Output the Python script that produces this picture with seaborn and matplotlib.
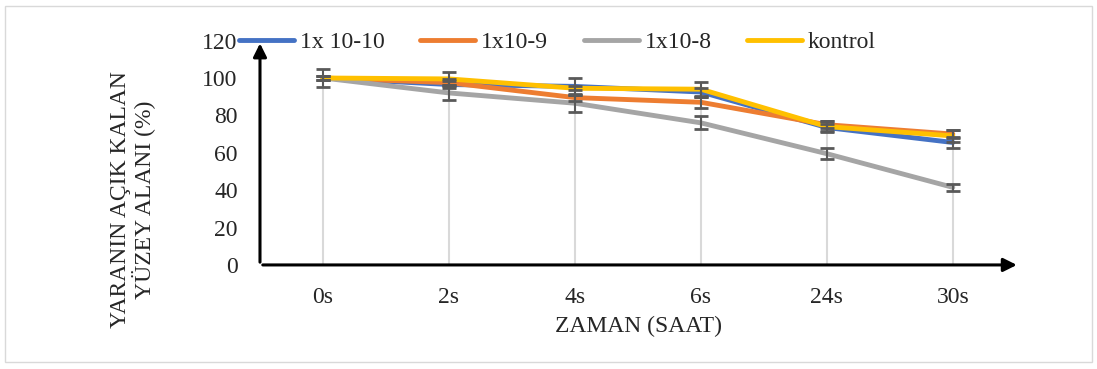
import matplotlib
matplotlib.use("Agg")
import matplotlib.pyplot as plt
import seaborn as sns
import numpy as np
import pandas as pd
from matplotlib.patches import Rectangle

categories = ["0s", "2s", "4s", "6s", "24s", "30s"]
series_names = ["1x 10-10", "1x10-9", "1x10-8", "kontrol"]
v_1e10 = [100, 96.5, 95.5, 92.5, 73.5, 65.5]
v_1e9 = [100, 97.5, 89.5, 87.0, 75.0, 70.0]
v_1e8 = [100, 92.0, 86.5, 76.0, 59.5, 41.5]
v_kontrol = [100, 99.5, 94.5, 94.0, 74.0, 69.0]
e_1e10 = [1.0, 2.0, 4.5, 2.0, 2.0, 3.0]
e_1e9 = [1.0, 2.0, 2.0, 3.0, 2.0, 2.0]
e_1e8 = [5.0, 4.0, 4.5, 3.5, 3.0, 2.0]
e_kontrol = [1.0, 3.5, 1.0, 4.0, 3.0, 3.0]
yticks = [0, 20, 40, 60, 80, 100, 120]

colors = ["#4472C4", "#ED7D31", "#A5A5A5", "#FFC000"]
values = [v_1e10, v_1e9, v_1e8, v_kontrol]
errors = [e_1e10, e_1e9, e_1e8, e_kontrol]

rows = []
for name, vals in zip(series_names, values):
    for i, (c, v) in enumerate(zip(categories, vals)):
        rows.append({"zaman": c, "x": i, "seri": name, "deger": v})
df = pd.DataFrame(rows)

sns.set_style("white")
plt.rcParams["font.family"] = ["Liberation Serif", "DejaVu Serif"]
FS = 17

fig = plt.figure(figsize=(10.97, 3.69), dpi=100)
ax = fig.add_axes([0.237, 0.282, 0.689, 0.608])

x = np.arange(len(categories))
# drop lines
ax.vlines(x, 0, np.max(np.array(values), axis=0), color="#D9D9D9", lw=1.5, zorder=1)

sns.lineplot(data=df, x="x", y="deger", hue="seri", palette=colors,
             hue_order=series_names, lw=3.5, ax=ax, zorder=3, legend=False)

for vals, errs in zip(values, errors):
    ax.errorbar(x, vals, yerr=errs, fmt="none", ecolor="#595959",
                elinewidth=1.5, capsize=5, capthick=2, zorder=4)

ax.set_xlim(-0.5, 5.5)
ax.set_ylim(0, 120)
ax.set_yticks(yticks)
ax.set_yticklabels([str(t) for t in yticks], fontsize=FS)
ax.set_xticks(np.arange(-0.5, 6.0, 1.0))
ax.set_xticklabels([])
ax.set_xticks(x, minor=True)
ax.set_xticklabels(categories, minor=True, fontsize=FS)
ax.tick_params(axis="x", which="major", direction="out", length=6, width=2, color="black")
ax.tick_params(axis="x", which="minor", length=0, pad=16)
ax.tick_params(axis="y", direction="inout", length=8, width=2, color="black", pad=12)
for s in ax.spines.values():
    s.set_visible(False)
ax.set_xlabel("")
ax.set_ylabel("")

# axis arrows
ax.annotate("", xy=(1.005, 0), xytext=(0, 0), xycoords="axes fraction",
            arrowprops=dict(arrowstyle="-|>", lw=2.2, color="black", mutation_scale=20),
            annotation_clip=False)
ax.annotate("", xy=(0, 1.0), xytext=(0, 0), xycoords="axes fraction",
            arrowprops=dict(arrowstyle="-|>", lw=2.2, color="black", mutation_scale=20),
            annotation_clip=False)

fig.text(0.582, 0.114, "ZAMAN (SAAT)", ha="center", va="center", fontsize=FS)
fig.text(0.121, 0.458, "YARANIN AÇIK KALAN\nYÜZEY ALANI (%)", ha="center", va="center",
         rotation=90, fontsize=FS, linespacing=1.0)

handles = [plt.Line2D([], [], color=c, lw=3.5) for c in colors]
fig.legend(handles, series_names, loc="center left", bbox_to_anchor=(0.218, 0.886),
           ncol=4, frameon=False, fontsize=FS, handlelength=2.33, handletextpad=0.25,
           columnspacing=1.5, borderpad=0, borderaxespad=0)

fig.patches.append(Rectangle((0.005, 0.02), 0.99, 0.965, transform=fig.transFigure,
                             fill=False, edgecolor="#D9D9D9", lw=1))

fig.savefig("out.png", dpi=100)
